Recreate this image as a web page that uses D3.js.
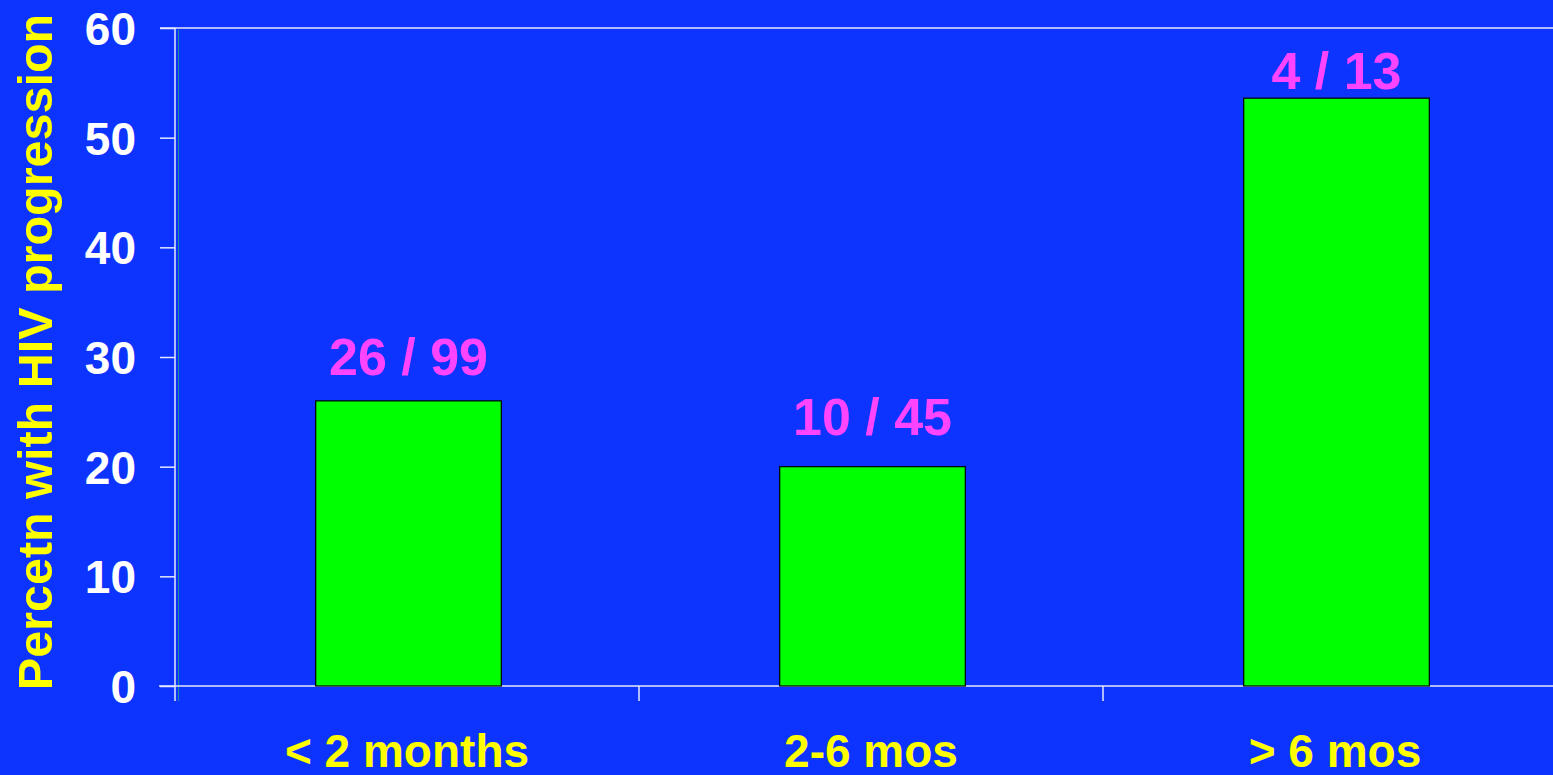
<!DOCTYPE html>
<html>
  <head>
    <meta charset="utf-8">
    <script src="https://d3js.org/d3.v7.min.js"></script>
    <title>HIV progression</title>
    <style>
      body { margin: 0; background: #0d33ff; overflow: hidden; }
      text { font-family: "Liberation Sans", Arial, sans-serif; font-weight: bold; }
    </style>
  </head>
  <body>
    <svg width="1553" height="775" id="chart"></svg>
    <script>
      // data
      var categories = ["< 2 months", "2-6 mos", "> 6 mos"];
      var percents = [26, 20, 53.6];
      var counts = ["26 / 99", "10 / 45", "4 / 13"];
      var yTicks = [0, 10, 20, 30, 40, 50, 60];
      var yTitle = "Percetn with HIV progression";

      // how far above each bar its count sits (px)
      var labelLift = [26, 32, 9];

      var svg = d3.select("#chart"),
          plotLeft = 175, plotTop = 28, plotBottom = 686, plotRight = 1567;

      var x = d3.scaleBand().domain(categories).range([plotLeft, plotRight]).padding(0);
      var y = d3.scaleLinear().domain([0, 60]).range([plotBottom, plotTop]);
      var barW = x.bandwidth() * 0.4;

      var lineCol = "#e6e8ff";

      // faint shadow line next to the y axis
      svg.append("line")
          .attr("x1", plotLeft + 3.5).attr("x2", plotLeft + 3.5)
          .attr("y1", plotTop + 2).attr("y2", plotBottom + 15)
          .attr("stroke", "#1a8fa0").attr("stroke-width", 1);

      // top frame line
      svg.append("line")
          .attr("x1", plotLeft - 15).attr("x2", 1553)
          .attr("y1", y(60)).attr("y2", y(60))
          .attr("stroke", lineCol).attr("stroke-width", 1.5);

      // y axis
      var gy = svg.append("g").attr("transform", "translate(" + plotLeft + ",0)")
          .call(d3.axisLeft(y).tickValues(yTicks).tickSize(15).tickPadding(24));
      gy.select(".domain").remove();
      gy.append("line")
          .attr("x1", 0).attr("x2", 0)
          .attr("y1", plotTop).attr("y2", plotBottom + 15)
          .attr("stroke", lineCol).attr("stroke-width", 1.5);
      gy.selectAll(".tick line").attr("stroke", lineCol).attr("stroke-width", 1.5);
      gy.selectAll(".tick text")
          .attr("fill", "#ffffff")
          .style("font-size", "46px")
          .attr("dy", "0.36em");

      // x axis
      var gx = svg.append("g").attr("transform", "translate(0," + plotBottom + ")")
          .call(d3.axisBottom(x).tickSize(0).tickPadding(0));
      gx.select(".domain").remove();
      gx.append("line")
          .attr("x1", plotLeft - 16).attr("x2", 1553)
          .attr("y1", 0).attr("y2", 0)
          .attr("stroke", lineCol).attr("stroke-width", 1.5);
      gx.selectAll(".tick text")
          .attr("fill", "#ffff00")
          .attr("y", 81).attr("dy", 0)
          .style("font-size", "46px");
      // separators between categories
      gx.selectAll(".sep")
          .data(categories.slice(1))
          .enter().append("line")
          .attr("class", "sep")
          .attr("x1", function (d) { return x(d); })
          .attr("x2", function (d) { return x(d); })
          .attr("y1", 0).attr("y2", 15)
          .attr("stroke", lineCol).attr("stroke-width", 1.5);

      // bars
      svg.selectAll(".bar")
          .data(percents)
          .enter().append("rect")
          .attr("class", "bar")
          .attr("x", function (d, i) { return x(categories[i]) + x.bandwidth() / 2 - barW / 2 + 1.5; })
          .attr("y", function (d) { return y(d); })
          .attr("width", barW)
          .attr("height", function (d) { return plotBottom - y(d); })
          .attr("fill", "#00ff00")
          .attr("stroke", "#000000")
          .attr("stroke-width", 1.2);

      // n / N labels
      svg.selectAll(".count")
          .data(counts)
          .enter().append("text")
          .attr("class", "count")
          .attr("x", function (d, i) { return x(categories[i]) + x.bandwidth() / 2 + 1.5; })
          .attr("y", function (d, i) { return y(percents[i]) - labelLift[i]; })
          .attr("text-anchor", "middle")
          .attr("fill", "#ff44ff")
          .style("font-size", "52px")
          .text(function (d) { return d; });

      // y title
      svg.append("text")
          .attr("transform", "translate(52,352) rotate(-90)")
          .attr("text-anchor", "middle")
          .attr("fill", "#ffff00")
          .style("font-size", "48.5px")
          .text(yTitle);
    </script>
  </body>
</html>
